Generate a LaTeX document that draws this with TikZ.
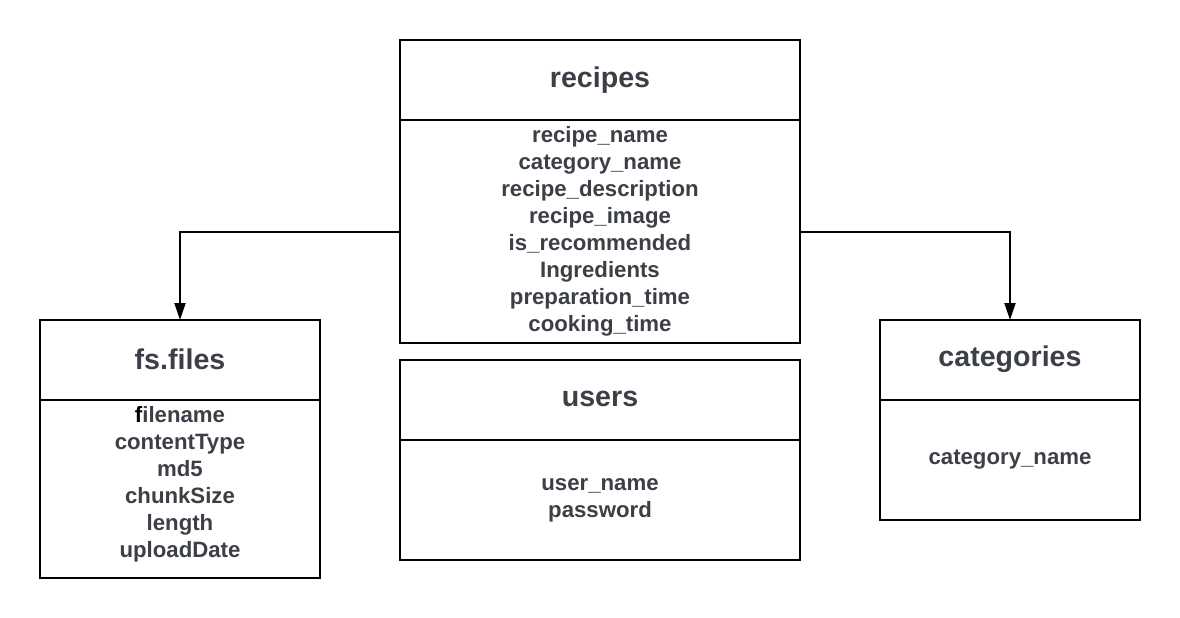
\documentclass[tikz,border=0pt]{standalone}
\usepackage{fontspec}
\setmainfont{Liberation Sans}
\usetikzlibrary{arrows.meta}
\definecolor{txt}{RGB}{60,64,70}
\tikzset{
  box/.style={draw=black, line width=2pt, rectangle, inner sep=0pt, outer sep=0pt, fill=white},
  ttl/.style={text=txt, font=\bfseries\fontsize{28.6}{34}\selectfont},
  flds/.style={text=txt, align=center, inner sep=0pt, font=\bfseries\fontsize{22.2}{27}\selectfont},
  conn/.style={line width=2pt, -{Triangle[width=11pt,length=17pt]}}
}
\begin{document}
\begin{tikzpicture}[x=1pt,y=-1pt]
\useasboundingbox (0,0) rectangle (1180,618);
% recipes
\node[box, minimum width=400pt, minimum height=80pt] (rhead) at (600,80) {};
\node[box, minimum width=400pt, minimum height=223pt] (rbody) at (600,231.5) {};
\node[ttl] (rtitle) at (600,80) {recipes};
\node[flds] (rfields) at (600,231) {recipe\_name\\category\_name\\recipe\_description\\recipe\_image\\is\_recommended\\Ingredients\\preparation\_time\\cooking\_time};
% fs.files
\node[box, minimum width=280pt, minimum height=80pt] (fhead) at (180,360) {};
\node[box, minimum width=280pt, minimum height=178pt] (fbody) at (180,489) {};
\node[ttl] (ftitle) at (180,359) {fs.files};
\node[flds] (ffields) at (180,484) {{\color{black}f}ilename\\contentType\\md5\\chunkSize\\length\\uploadDate};
% users
\node[box, minimum width=400pt, minimum height=80pt] (uhead) at (600,400) {};
\node[box, minimum width=400pt, minimum height=120pt] (ubody) at (600,500) {};
\node[ttl] (utitle) at (600,399) {users};
\node[flds] (ufields) at (600,500) {user\_name\\password};
% categories
\node[box, minimum width=260pt, minimum height=80pt] (chead) at (1010,360) {};
\node[box, minimum width=260pt, minimum height=120pt] (cbody) at (1010,460) {};
\node[ttl] (ctitle) at (1010,359) {categories};
\node[flds] (cfields) at (1010,460) {category\_name};
% connectors
\draw[conn] (rbody.west) -| (fhead.north);
\draw[conn] (rbody.east) -| (chead.north);
\end{tikzpicture}
\end{document}
